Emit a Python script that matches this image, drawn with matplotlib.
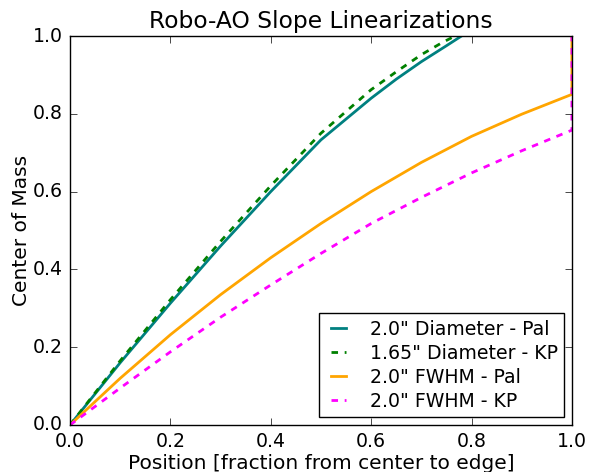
import matplotlib
matplotlib.use("Agg")
import matplotlib.pyplot as plt

# values
pos = [0.0, 0.1, 0.2, 0.3, 0.4, 0.5, 0.6, 0.65, 0.7, 0.75, 0.78]
diam_pal = [0.0, 0.16, 0.313, 0.46, 0.60, 0.733, 0.84, 0.889, 0.934, 0.975, 1.0]

pos_kp = [0.0, 0.1, 0.2, 0.3, 0.4, 0.5, 0.6, 0.65, 0.7, 0.74, 0.767]
diam_kp = [0.0, 0.165, 0.322, 0.472, 0.615, 0.75, 0.862, 0.908, 0.952, 0.982, 1.0]

pos_fwhm = [0.0, 0.1, 0.2, 0.3, 0.4, 0.5, 0.6, 0.7, 0.8, 0.9, 1.0, 1.0]
fwhm_pal = [0.0, 0.12, 0.232, 0.335, 0.43, 0.518, 0.60, 0.675, 0.742, 0.799, 0.85, 1.0]
fwhm_kp = [0.0, 0.095, 0.188, 0.277, 0.36, 0.441, 0.518, 0.585, 0.648, 0.705, 0.758, 1.0]

labels = ['2.0" Diameter - Pal', '1.65" Diameter - KP', '2.0" FWHM - Pal', '2.0" FWHM - KP']

plt.style.use("classic")
plt.rcParams["font.family"] = ["DejaVu Sans"]

fig = plt.figure(figsize=(5.89, 4.72), dpi=100, facecolor="white")
ax = fig.add_axes([0.1188, 0.0996, 0.8522, 0.8241])
ax.set_facecolor("white")

dash = (4.7, 4.8)
ax.plot(pos, diam_pal, color="teal", lw=2, ls="-", label=labels[0])
ax.plot(pos_kp, diam_kp, color="green", lw=2, ls="--", dashes=dash, label=labels[1])
ax.plot(pos_fwhm, fwhm_pal, color="orange", lw=2, ls="-", label=labels[2])
ax.plot(pos_fwhm, fwhm_kp, color="magenta", lw=2, ls="--", dashes=dash, label=labels[3])

ax.set_xlim(0, 1)
ax.set_ylim(0, 1)
ax.set_xticks([0.0, 0.2, 0.4, 0.6, 0.8, 1.0])
ax.set_yticks([0.0, 0.2, 0.4, 0.6, 0.8, 1.0])
ax.tick_params(labelsize=13.6, direction="in", length=5, pad=5)
ax.minorticks_off()

ax.set_title("Robo-AO Slope Linearizations", fontsize=16.8, pad=6)
ax.set_xlabel("Position [fraction from center to edge]", fontsize=14.5, labelpad=2)
ax.set_ylabel("Center of Mass", fontsize=14.5, labelpad=1.5)

leg = ax.legend(loc="lower right", fontsize=13.6, frameon=True, fancybox=False,
                handlelength=1.4, handletextpad=0.95, labelspacing=0.27,
                borderpad=0.35, borderaxespad=0.4)
leg.get_frame().set_edgecolor("black")

fig.savefig("out.png", dpi=100, facecolor="white")
